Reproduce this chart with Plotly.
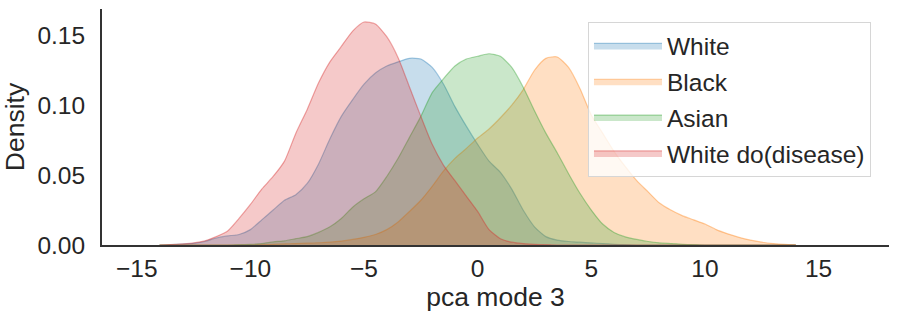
import plotly.graph_objects as go

# pca mode 3 grid (at 0.5 steps)
x_grid = [-14.0, -13.5, -13.0, -12.5, -12.0, -11.5, -11.0, -10.5, -10.0, -9.5,
          -9.0, -8.5, -8.0, -7.5, -7.0, -6.5, -6.0, -5.5, -5.0, -4.5,
          -4.0, -3.5, -3.0, -2.5, -2.0, -1.5, -1.0, -0.5, 0.0, 0.5,
          1.0, 1.5, 2.0, 2.5, 3.0, 3.5, 4.0, 4.5, 5.0, 5.5,
          6.0, 6.5, 7.0, 7.5, 8.0, 8.5, 9.0, 9.5, 10.0, 10.5,
          11.0, 11.5, 12.0, 12.5, 13.0, 13.5, 14.0]

white = [0.0, 0.0002, 0.0006, 0.0012, 0.0025, 0.005, 0.0065, 0.0075, 0.011, 0.018,
         0.025, 0.032, 0.036, 0.044, 0.058, 0.076, 0.092, 0.104, 0.115, 0.123,
         0.128, 0.131, 0.1335, 0.133, 0.127, 0.115, 0.099, 0.085, 0.072, 0.060,
         0.052, 0.040, 0.025, 0.013, 0.006, 0.0035, 0.0025, 0.002, 0.0015, 0.001,
         0.0005, 0.0002, 0.0, 0.0, 0.0, 0.0, 0.0, 0.0, 0.0, 0.0,
         0.0, 0.0, 0.0, 0.0, 0.0, 0.0, 0.0]

black = [0.0, 0.0, 0.0, 0.0, 0.0, 0.0, 0.0, 0.0, 0.0, 0.0002,
         0.0005, 0.0008, 0.001, 0.0013, 0.0016, 0.002, 0.0028, 0.004, 0.0055, 0.0075,
         0.011, 0.0165, 0.024, 0.032, 0.042, 0.053, 0.062, 0.069, 0.0765, 0.083,
         0.091, 0.100, 0.111, 0.125, 0.1335, 0.1345, 0.127, 0.112, 0.093, 0.080,
         0.067, 0.056, 0.046, 0.038, 0.030, 0.025, 0.021, 0.018, 0.015, 0.011,
         0.008, 0.0055, 0.0035, 0.002, 0.001, 0.0004, 0.0001]

asian = [0.0, 0.0, 0.0, 0.0, 0.0, 0.0, 0.0, 0.0002, 0.0005, 0.001,
         0.0022, 0.003, 0.0045, 0.006, 0.009, 0.013, 0.019, 0.027, 0.033, 0.038,
         0.049, 0.062, 0.077, 0.092, 0.109, 0.119, 0.128, 0.133, 0.135, 0.1368,
         0.135, 0.127, 0.113, 0.096, 0.080, 0.066, 0.051, 0.037, 0.025, 0.015,
         0.009, 0.0058, 0.004, 0.0025, 0.0015, 0.001, 0.0005, 0.0002, 0.0, 0.0,
         0.0, 0.0, 0.0, 0.0, 0.0, 0.0, 0.0]

white_do = [0.0, 0.0003, 0.0008, 0.0015, 0.003, 0.006, 0.010, 0.019, 0.029, 0.040,
            0.049, 0.060, 0.080, 0.097, 0.116, 0.131, 0.142, 0.153, 0.1595, 0.158,
            0.149, 0.134, 0.113, 0.092, 0.072, 0.057, 0.046, 0.035, 0.024, 0.011,
            0.0045, 0.002, 0.001, 0.0005, 0.0002, 0.0, 0.0, 0.0, 0.0, 0.0,
            0.0, 0.0, 0.0, 0.0, 0.0, 0.0, 0.0, 0.0, 0.0, 0.0,
            0.0, 0.0, 0.0, 0.0, 0.0, 0.0, 0.0]

names = ['White', 'Black', 'Asian', 'White do(disease)']
series = [white, black, asian, white_do]
colors = [(31, 119, 180), (255, 127, 14), (44, 160, 44), (214, 39, 40)]

FONT = 'Liberation Sans, Arial, sans-serif'

fig = go.Figure()

for name, ys, (r, g, b) in zip(names, series, colors):
    fig.add_trace(go.Scatter(
        x=x_grid,
        y=ys,
        name=name,
        legendgroup=name,
        mode='lines',
        fill='tozeroy',
        fillcolor=f'rgba({r},{g},{b},0.25)',
        line=dict(color=f'rgba({r},{g},{b},0.4)', width=1.2, shape='spline', smoothing=0.6),
    ))

fig.update_layout(
    width=899,
    height=322,
    margin=dict(l=102, r=10, t=9, b=77),
    plot_bgcolor='white',
    paper_bgcolor='white',
    font=dict(family=FONT, size=24.5, color='#262626'),
    showlegend=True,
    legend=dict(
        x=0.6175, y=0.945, xanchor='left', yanchor='top',
        bgcolor='rgba(255,255,255,0.8)',
        bordercolor='#d6d6d6', borderwidth=1,
        font=dict(family=FONT, size=24.5, color='#262626'),
        itemwidth=68,
        tracegroupgap=1,
    ),
    xaxis=dict(
        title=dict(text='pca mode 3', font=dict(size=26.5), standoff=0),
        range=[-16.53, 18.1],
        tickvals=[-15, -10, -5, 0, 5, 10, 15],
        ticktext=['\u221215', '\u221210', '\u22125', '0', '5', '10', '15'],
        showgrid=False, zeroline=False, automargin=False,
        showline=True, linecolor='#333333', linewidth=2,
        ticks='outside', ticklen=1, tickcolor='rgba(0,0,0,0)',
    ),
    yaxis=dict(
        title=dict(text='Density', font=dict(size=26.5), standoff=8),
        range=[0, 0.1688],
        tickvals=[0, 0.05, 0.10, 0.15],
        ticktext=['0.00', '0.05', '0.10', '0.15'],
        showgrid=False, zeroline=False, automargin=False,
        showline=True, linecolor='#333333', linewidth=2,
        ticks='outside', ticklen=10, tickcolor='rgba(0,0,0,0)',
    ),
)

fig.write_html("out.html", config={'displayModeBar': False},
               post_script="document.body.style.margin='0';")
